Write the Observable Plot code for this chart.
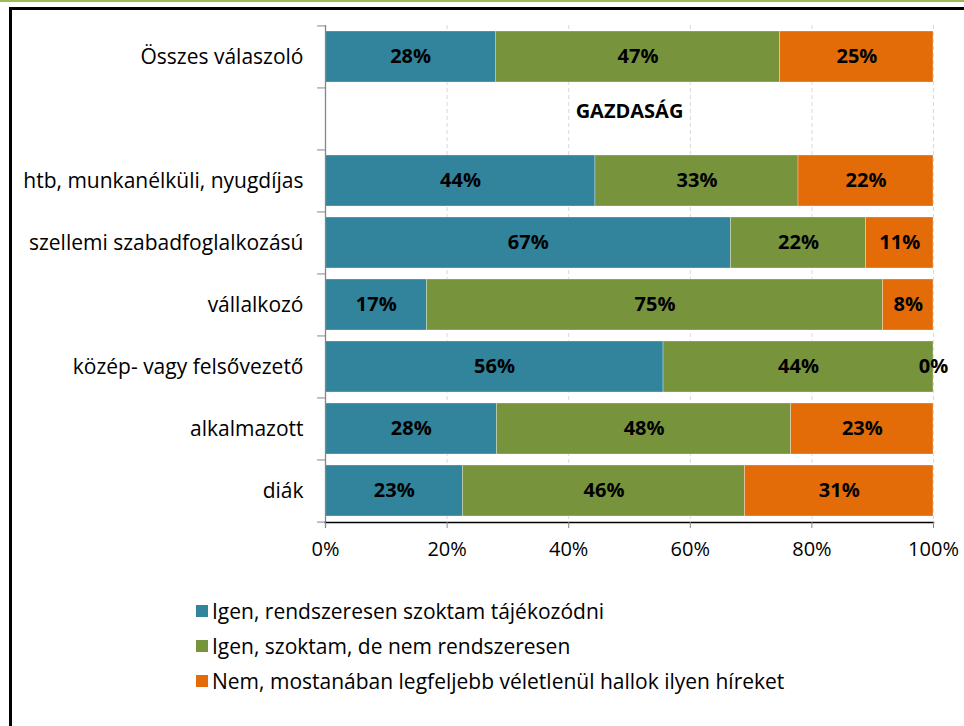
<!DOCTYPE html>
<html>
<head>
<meta charset="utf-8">
<script src="https://cdn.jsdelivr.net/npm/d3@7"></script>
<script src="https://cdn.jsdelivr.net/npm/@observablehq/plot@0.6"></script>
<style>
  html, body { margin: 0; padding: 0; background: white; }
  body { width: 964px; height: 726px; position: relative; overflow: hidden; font-family: "Open Sans", sans-serif; }
  #topline { position: absolute; left: 0; top: 0; width: 964px; height: 2px; background: #9bbb59; }
  #frame { position: absolute; left: 9px; top: 7px; width: 1000px; height: 800px; border: 3px solid #000; }
  #chart { position: absolute; left: 0; top: 0; }
  #legend { position: absolute; left: 196px; top: 593px; font-size: 21px; color: #000; }
  #legend .item { display: flex; align-items: center; height: 35px; }
  #legend .sw { width: 12px; height: 12px; margin-right: 4px; }
</style>
</head>
<body>
<div id="topline"></div>
<div id="frame"></div>
<div id="chart"></div>
<div id="legend"></div>
<script>
const categories = ["Összes válaszoló", "", "htb, munkanélküli, nyugdíjas", "szellemi szabadfoglalkozású", "vállalkozó", "közép- vagy felsővezető", "alkalmazott", "diák"];
const sectionLabel = "GAZDASÁG";
const barCategories = ["Összes válaszoló", "htb, munkanélküli, nyugdíjas", "szellemi szabadfoglalkozású", "vállalkozó", "közép- vagy felsővezető", "alkalmazott", "diák"];
const seriesNames = ["Igen, rendszeresen szoktam tájékozódni", "Igen, szoktam, de nem rendszeresen", "Nem, mostanában legfeljebb véletlenül hallok ilyen híreket"];
const seriesColors = ["#31849b", "#77933c", "#e36c09"];
const regular = [28.0, 44.4, 66.7, 16.7, 55.6, 28.2, 22.6];
const occasional = [46.8, 33.4, 22.2, 75.0, 44.4, 48.4, 46.4];
const notReally = [25.2, 22.2, 11.1, 8.3, 0.0, 23.4, 31.0];
const xTicks = [0, 20, 40, 60, 80, 100];

const seriesValues = [regular, occasional, notReally];
const rows = [];
seriesNames.forEach((s, si) => {
  barCategories.forEach((c, ci) => {
    rows.push({cat: c, series: s, value: seriesValues[si][ci]});
  });
});

const W = 964, H = 575, mT = 25, mB = 53, mL = 325, mR = 31;
const step = (H - mT - mB) / categories.length;
const font = "'Open Sans', sans-serif";

const chart = Plot.plot({
  width: W, height: H,
  marginLeft: mL, marginRight: mR, marginTop: mT, marginBottom: mB,
  style: {fontFamily: font, fontSize: "20px", background: "transparent", color: "#000"},
  x: {domain: [0, 100], label: null},
  y: {domain: categories, paddingInner: 0.18, paddingOuter: 0.09, label: null},
  color: {domain: seriesNames, range: seriesColors},
  marks: [
    Plot.ruleX(xTicks.slice(1), {stroke: "#d9d9d9", strokeDasharray: "4,3", strokeWidth: 1}),
    Plot.barX(rows, Plot.stackX({x: "value", y: "cat", fill: "series", order: seriesNames, stroke: "white", strokeWidth: 0.5, strokeOpacity: 0.6})),
    Plot.text(rows, Plot.stackX({x: "value", y: "cat", z: "series", order: seriesNames, text: d => Math.round(d.value) + "%", fontWeight: "bold", fontSize: 20, fill: "black"})),
    Plot.text([sectionLabel], {x: 50, y: () => "", text: d => d, fontWeight: "bold", fontSize: 20, fill: "black", dy: -7}),
    Plot.ruleX([0], {stroke: "#868686", strokeWidth: 1.3, insetBottom: -6}),
    Plot.ruleY(categories, {y: d => d, x1: -1.3, x2: 0, dy: -step / 2, stroke: "#868686"}),
    Plot.ruleY(categories.slice(-1), {y: d => d, x1: -1.3, x2: 0, dy: step / 2, stroke: "#868686"}),
    Plot.axisY({tickSize: 0, tickPadding: 22, fontSize: 21, tickFormat: d => d, label: null}),
    Plot.frame({anchor: "bottom", stroke: "black", strokeWidth: 1.5}),
    Plot.axisX(xTicks, {tickSize: 6, stroke: "#868686", fill: "black", tickPadding: 13, fontSize: 20, tickFormat: d => d + "%", label: null})
  ]
});
document.getElementById("chart").appendChild(chart);

const legend = document.getElementById("legend");
seriesNames.forEach((s, i) => {
  const item = document.createElement("div");
  item.className = "item";
  const sw = document.createElement("span");
  sw.className = "sw";
  sw.style.background = seriesColors[i];
  const t = document.createElement("span");
  t.textContent = s;
  item.appendChild(sw);
  item.appendChild(t);
  legend.appendChild(item);
});
</script>
</body>
</html>
